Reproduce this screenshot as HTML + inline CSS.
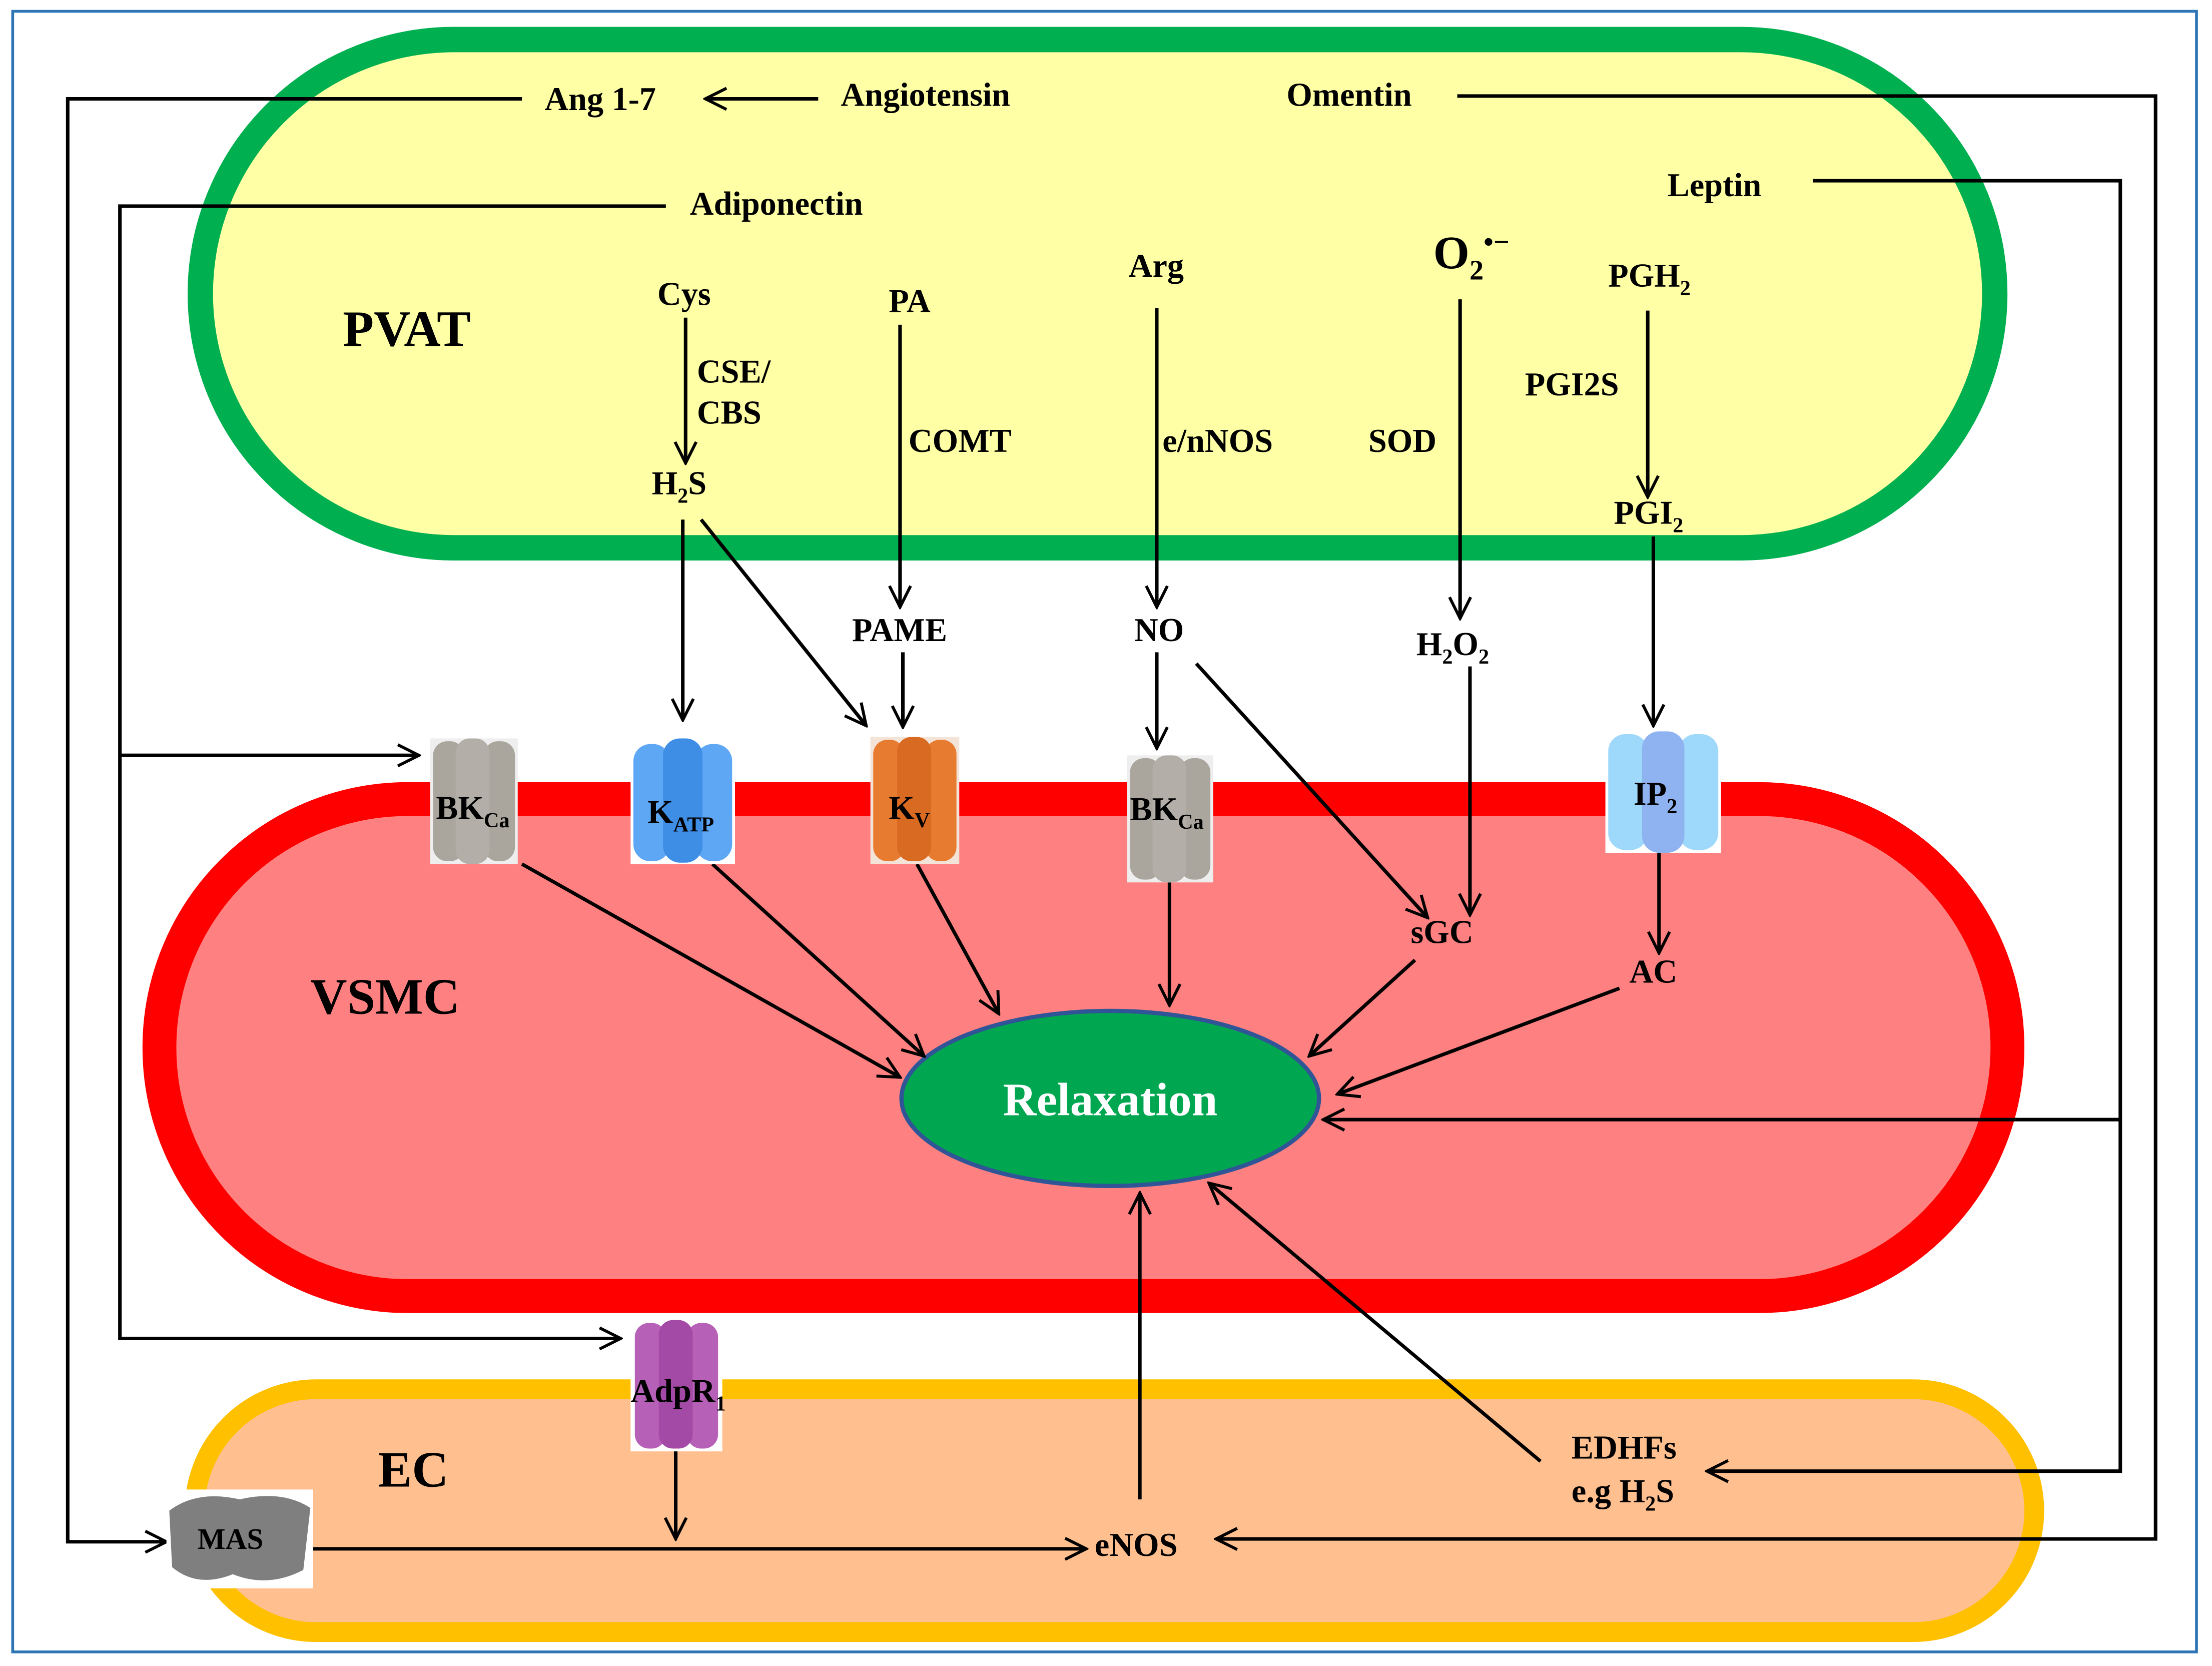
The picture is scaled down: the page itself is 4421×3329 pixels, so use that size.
<!DOCTYPE html>
<html><head><meta charset="utf-8"><style>
html,body{margin:0;padding:0;background:#fff}
svg{display:block}
text{font-family:"Liberation Serif",serif;font-weight:bold;fill:#000}
</style></head><body>
<svg width="4421" height="3329" viewBox="0 0 1568 1180" preserveAspectRatio="none" xmlns="http://www.w3.org/2000/svg">
<defs>
<marker id="b" viewBox="0 0 12 12" refX="11" refY="6" markerWidth="18" markerHeight="18" markerUnits="userSpaceOnUse" orient="auto">
<path d="M1,1 L11,6 L1,11" fill="none" stroke="#000" stroke-width="1.4"/></marker>
</defs>
<rect x="0" y="0" width="1568" height="1180" fill="#fff"/>
<rect x="9" y="8" width="1548" height="1162" fill="none" stroke="#2e75b6" stroke-width="2"/>
<rect x="142" y="28" width="1272" height="360" rx="180" fill="#ffffa6" stroke="#00b050" stroke-width="18"/>
<rect x="113" y="566" width="1310" height="352" rx="176" fill="#ff8080" stroke="#ff0000" stroke-width="24"/>
<rect x="138" y="984" width="1304" height="172" rx="86" fill="#ffbf8f" stroke="#ffc000" stroke-width="14"/>
<ellipse cx="787" cy="778" rx="148" ry="62" fill="#00a650" stroke="#2f5597" stroke-width="3"/>
<text x="787" y="790" font-size="33" text-anchor="middle" style="fill:#fff">Relaxation</text>

<g stroke="#000" stroke-width="2.5" fill="none">
<polyline points="370,70 48,70 48,1092 118,1092" marker-end="url(#b)"/>
<line x1="580" y1="70" x2="500" y2="70" marker-end="url(#b)"/>
<polyline points="1033,68 1528,68 1528,1090 862,1090" marker-end="url(#b)"/>
<polyline points="1285,128 1503,128 1503,1042 1210,1042" marker-end="url(#b)"/>
<line x1="1503" y1="793" x2="938" y2="793" marker-end="url(#b)"/>
<polyline points="472,146 85,146 85,948 440,948" marker-end="url(#b)"/>
<line x1="85" y1="535" x2="297" y2="535" marker-end="url(#b)"/>
<line x1="486" y1="225" x2="486" y2="328" marker-end="url(#b)"/>
<line x1="484" y1="368" x2="484" y2="510" marker-end="url(#b)"/>
<line x1="497" y1="368" x2="614" y2="514" marker-end="url(#b)"/>
<line x1="638" y1="230" x2="638" y2="430" marker-end="url(#b)"/>
<line x1="640" y1="462" x2="640" y2="515" marker-end="url(#b)"/>
<line x1="820" y1="218" x2="820" y2="430" marker-end="url(#b)"/>
<line x1="820" y1="462" x2="820" y2="530" marker-end="url(#b)"/>
<line x1="848" y1="470" x2="1012" y2="650" marker-end="url(#b)"/>
<line x1="1035" y1="212" x2="1035" y2="438" marker-end="url(#b)"/>
<line x1="1042" y1="472" x2="1042" y2="648" marker-end="url(#b)"/>
<line x1="1168" y1="220" x2="1168" y2="352" marker-end="url(#b)"/>
<line x1="1172" y1="380" x2="1172" y2="514" marker-end="url(#b)"/>
<line x1="1176" y1="600" x2="1176" y2="675" marker-end="url(#b)"/>
<line x1="370" y1="612" x2="638" y2="763" marker-end="url(#b)"/>
<line x1="505" y1="612" x2="655" y2="748" marker-end="url(#b)"/>
<line x1="650" y1="612" x2="708" y2="718" marker-end="url(#b)"/>
<line x1="829" y1="625" x2="829" y2="712" marker-end="url(#b)"/>
<line x1="1003" y1="680" x2="928" y2="748" marker-end="url(#b)"/>
<line x1="1148" y1="700" x2="948" y2="775" marker-end="url(#b)"/>
<line x1="808" y1="1062" x2="808" y2="845" marker-end="url(#b)"/>
<line x1="1092" y1="1035" x2="857" y2="838" marker-end="url(#b)"/>
<line x1="222" y1="1097" x2="770" y2="1097" marker-end="url(#b)"/>
<line x1="479" y1="1020" x2="479" y2="1090" marker-end="url(#b)"/>
</g>

<g>
<rect x="305" y="523" width="62" height="89" fill="#eee"/>
<rect x="307" y="525" width="22" height="85" rx="10" fill="#aaa69e"/><rect x="343" y="525" width="22" height="85" rx="10" fill="#aaa69e"/><rect x="323" y="523" width="24" height="89" rx="10" fill="#b3afa8"/>
<rect x="447" y="525" width="74" height="87" fill="#fff"/>
<rect x="449" y="527" width="26" height="83" rx="12" fill="#5ea7f5"/><rect x="493" y="527" width="26" height="83" rx="12" fill="#5ea7f5"/><rect x="470" y="523" width="28" height="88" rx="12" fill="#3f8ee6"/>
<rect x="617" y="522" width="63" height="90" fill="#f4e3d7"/>
<rect x="619" y="524" width="22" height="86" rx="10" fill="#e77b30"/><rect x="656" y="524" width="22" height="86" rx="10" fill="#e77b30"/><rect x="636" y="522" width="24" height="88" rx="10" fill="#d96a22"/>
<rect x="799" y="535" width="61" height="90" fill="#eee"/>
<rect x="801" y="537" width="22" height="86" rx="10" fill="#aaa69e"/><rect x="836" y="537" width="22" height="86" rx="10" fill="#aaa69e"/><rect x="817" y="535" width="24" height="90" rx="10" fill="#b3afa8"/>
<rect x="1138" y="518" width="82" height="86" fill="#fff"/>
<rect x="1140" y="520" width="28" height="82" rx="12" fill="#9ed8fa"/><rect x="1190" y="520" width="28" height="82" rx="12" fill="#9ed8fa"/><rect x="1164" y="518" width="30" height="86" rx="12" fill="#8fb2f0"/>
<rect x="447" y="935" width="65" height="93" fill="#fff"/>
<rect x="450" y="937" width="22" height="89" rx="10" fill="#b660b8"/><rect x="487" y="937" width="22" height="89" rx="10" fill="#b660b8"/><rect x="467" y="935" width="24" height="91" rx="10" fill="#a24aa5"/>
<rect x="118" y="1055" width="104" height="70" fill="#fff"/>
<path d="M120,1070 Q140,1055 170,1062 Q200,1055 220,1068 L215,1112 Q190,1125 165,1115 Q140,1125 122,1110 Z" fill="#7f7f7f"/>
</g>

<g font-size="23.5">
<text x="386" y="78">Ang 1-7</text>
<text x="596" y="75">Angiotensin</text>
<text x="912" y="75">Omentin</text>
<text x="1182" y="139">Leptin</text>
<text x="489" y="152">Adiponectin</text>
<text x="466" y="216">Cys</text>
<text x="494" y="271">CSE/</text>
<text x="494" y="300">CBS</text>
<text x="462" y="350">H<tspan font-size="15" dy="6">2</tspan><tspan dy="-6">S</tspan></text>
<text x="630" y="221">PA</text>
<text x="644" y="320">COMT</text>
<text x="800" y="196">Arg</text>
<text x="824" y="320">e/nNOS</text>
<text x="970" y="320">SOD</text>
<text x="1140" y="203">PGH<tspan font-size="15" dy="6">2</tspan></text>
<text x="1081" y="280">PGI2S</text>
<text x="1144" y="371">PGI<tspan font-size="15" dy="6">2</tspan></text>
<text x="604" y="454">PAME</text>
<text x="804" y="454">NO</text>
<text x="1004" y="464">H<tspan font-size="15" dy="6">2</tspan><tspan dy="-6">O</tspan><tspan font-size="15" dy="6">2</tspan></text>
<text x="1000" y="668">sGC</text>
<text x="1155" y="696">AC</text>
<text x="309" y="580">BK<tspan font-size="15" dy="6">Ca</tspan></text>
<text x="459" y="583">K<tspan font-size="15" dy="6">ATP</tspan></text>
<text x="630" y="580">K<tspan font-size="15" dy="6">V</tspan></text>
<text x="801" y="581">BK<tspan font-size="15" dy="6">Ca</tspan></text>
<text x="1158" y="570">IP<tspan font-size="15" dy="6">2</tspan></text>
<text x="447" y="993">AdpR<tspan font-size="15" dy="6">1</tspan></text>
<text x="140" y="1097" font-size="21">MAS</text>
<text x="776" y="1102">eNOS</text>
<text x="1114" y="1033">EDHFs</text>
<text x="1114" y="1064">e.g H<tspan font-size="15" dy="6">2</tspan><tspan dy="-6">S</tspan></text>
</g>
<text x="1016" y="190" font-size="33">O<tspan font-size="20" dy="8">2</tspan><tspan font-size="20" dy="-20">•−</tspan></text>
<text x="243" y="245" font-size="36">PVAT</text>
<text x="220" y="718" font-size="36">VSMC</text>
<text x="268" y="1053" font-size="36">EC</text>
</svg>
</body></html>
